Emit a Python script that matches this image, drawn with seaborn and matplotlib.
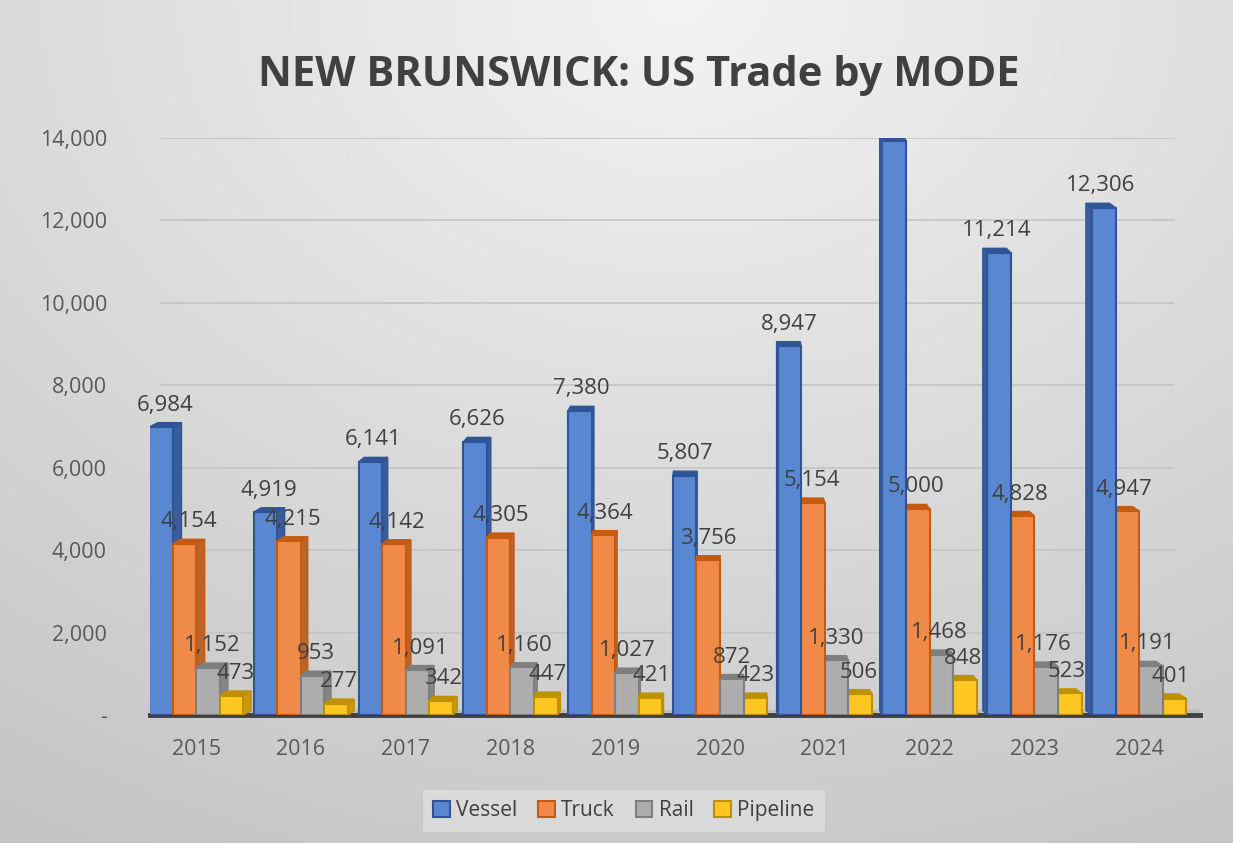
import numpy as np
import pandas as pd
import matplotlib
matplotlib.use("Agg")
import matplotlib.pyplot as plt
import seaborn as sns
from matplotlib.patches import Polygon, Patch

years = ['2015', '2016', '2017', '2018', '2019', '2020', '2021', '2022', '2023', '2024']
vessel = [6984, 4919, 6141, 6626, 7380, 5807, 8947, 13929, 11214, 12306]
truck = [4154, 4215, 4142, 4305, 4364, 3756, 5154, 5000, 4828, 4947]
rail = [1152, 953, 1091, 1160, 1027, 872, 1330, 1468, 1176, 1191]
pipeline = [473, 277, 342, 447, 421, 423, 506, 848, 523, 401]
modes = ['Vessel', 'Truck', 'Rail', 'Pipeline']

face = ['#5A87D2', '#F08A48', '#ADADAD', '#FFC521']
edge = ['#2F5597', '#C55A11', '#7F7F7F', '#BF9000']
side = ['#3A5C98', '#B8642A', '#858585', '#C99A10']

df = pd.DataFrame({'year': years * 4,
                   'mode': np.repeat(modes, len(years)),
                   'value': vessel + truck + rail + pipeline})

sns.set_style("white")
plt.rcParams['font.family'] = ['Open Sans', 'DejaVu Sans']

fig = plt.figure(figsize=(12.33, 8.43), dpi=100)

# background gradient
bg = fig.add_axes([0, 0, 1, 1], zorder=-10)
yy, xx = np.mgrid[0:1:200j, 0:1:300j]
r = np.sqrt(((xx - 0.55) * 1.1) ** 2 + (yy * 1.0) ** 2)
shade = 0.95 - 0.16 * np.clip(r, 0, 1.2)
bg.imshow(shade, cmap='gray', vmin=0, vmax=1, aspect='auto', extent=[0, 1, 0, 1], origin='upper')
bg.axis('off')
fig.patch.set_edgecolor('#D0D0D0')
fig.patch.set_linewidth(1.5)

ax = fig.add_axes([150 / 1233, 0.1518, 1050 / 1233, 0.6845])
ax.patch.set_alpha(0)

sns.barplot(data=df, x='year', y='value', hue='mode', palette=face, width=0.9,
            gap=0, saturation=1, legend=False, ax=ax, zorder=3)

# fake 3D: side faces lean toward a vanishing point near the middle
vp, dy = 5.0, 110
for i, cont in enumerate(ax.containers):
    for p in cont.patches:
        x0, w, h = p.get_x(), p.get_width(), p.get_height()
        dx = 0.016 * (vp - (x0 + w / 2))
        z = 3 + (i * 0.1 if dx > 0 else (3 - i) * 0.1)
        p.set_edgecolor(edge[i])
        p.set_linewidth(1.5)
        p.set_zorder(z)
        xs = x0 + w if dx > 0 else x0
        sd = Polygon([(xs, 0), (xs + dx, dy), (xs + dx, h + dy), (xs, h)],
                     closed=True, facecolor=side[i], edgecolor=edge[i], lw=1, zorder=z - 0.01)
        tp = Polygon([(x0, h), (x0 + dx, h + dy), (x0 + w + dx, h + dy), (x0 + w, h)],
                     closed=True, facecolor=edge[i], edgecolor=edge[i], lw=1, zorder=z - 0.01)
        ax.add_patch(sd)
        ax.add_patch(tp)
        ax.annotate(f'{h:,.0f}', (x0 + w / 2 + dx / 2, h + dy), xytext=(0, 5),
                    textcoords='offset points', ha='center', va='bottom',
                    fontsize=16, color='#404040', zorder=10)

ax.axhspan(0, dy, color='#BDBDBD', zorder=1)
ax.set_xlim(-0.44, 9.58)
ax.set_ylim(0, 14000)
ax.set_yticks(range(0, 14001, 2000))
ax.set_yticklabels(['-'] + [f'{v:,}' for v in range(2000, 14001, 2000)])
for v in range(2000, 14001, 2000):
    ax.axhline(v, xmin=0.01, xmax=0.975, color='#C4C4C4', linewidth=1.2, zorder=0)
for s in ['top', 'right', 'left']:
    ax.spines[s].set_visible(False)
ax.spines['bottom'].set_color('#404040')
ax.spines['bottom'].set_linewidth(3.5)
ax.tick_params(axis='y', length=0, pad=31, labelsize=15.5, labelcolor='#595959')
ax.tick_params(axis='x', length=0, pad=17, labelsize=15.5, labelcolor='#595959')
ax.set_xlabel('')
ax.set_ylabel('')

fig.suptitle('NEW BRUNSWICK: US Trade by MODE', x=0.518, y=0.935, fontsize=30,
             fontweight='bold', color='#404040')

handles = [Patch(facecolor=face[i], edgecolor=edge[i], linewidth=1.5, label=m)
           for i, m in enumerate(modes)]
leg = fig.legend(handles=handles, loc='center', bbox_to_anchor=(0.506, 0.038), ncol=4,
                 fontsize=15, frameon=True, handlelength=0.8, handleheight=0.8,
                 handletextpad=0.3, columnspacing=1.0, borderpad=0.5, fancybox=False)
leg.get_frame().set_facecolor('#DEDEDE')
leg.get_frame().set_edgecolor('none')
for t in leg.get_texts():
    t.set_color('#404040')

fig.savefig('out.png', dpi=100)
